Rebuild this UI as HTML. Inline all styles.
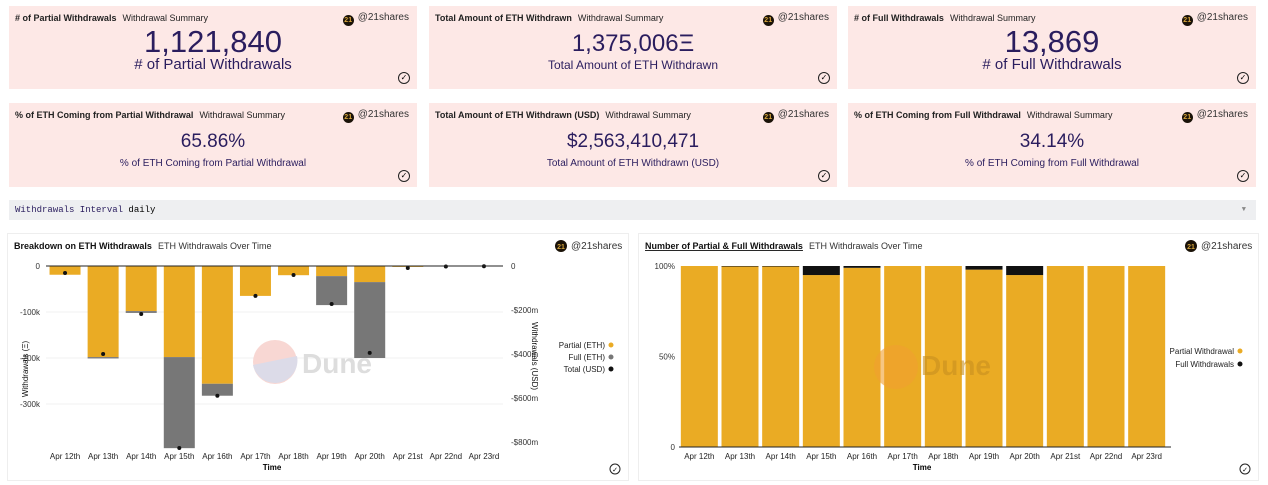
<!DOCTYPE html>
<html><head><meta charset="utf-8"><style>
body{margin:0;width:1268px;height:485px;background:#fff;font-family:"Liberation Sans",sans-serif;position:relative;overflow:hidden}
.card{position:absolute;width:408px;height:83px;background:#fde8e6;}
.ct{position:absolute;left:6px;top:7px;font-size:9px;color:#222}
.ct b{font-weight:bold;margin-right:6px}
.own{position:absolute;right:8px;top:6px;font-size:10px;color:#333}
.own i{display:inline-block;width:11px;height:11px;border-radius:50%;background:#1a1208;color:#d4a23a;font-size:7px;font-style:normal;text-align:center;line-height:11px;vertical-align:-2px;margin-right:4px;font-weight:bold}
.big{position:absolute;left:0;right:0;text-align:center;color:#2a1d5e}
.chk{position:absolute;right:7px;bottom:5px;width:10px;height:10px;border:1px solid #222;border-radius:50%;font-size:8px;line-height:10px;text-align:center}
.panel{position:absolute;top:233px;height:246px;border:1px solid #eee;background:#fff}
</style></head><body>
<div class="card" style="left:9px;top:6px"><div class="ct"><b># of Partial Withdrawals</b>Withdrawal Summary</div><div class="own"><i>21</i>@21shares</div><div class="big" style="top:18px;font-size:31px">1,121,840</div><div class="big" style="top:50px;font-size:15px"># of Partial Withdrawals</div><div class="chk">✓</div></div>
<div class="card" style="left:429px;top:6px"><div class="ct"><b>Total Amount of ETH Withdrawn</b>Withdrawal Summary</div><div class="own"><i>21</i>@21shares</div><div class="big" style="top:24px;font-size:24px">1,375,006Ξ</div><div class="big" style="top:52px;font-size:12px">Total Amount of ETH Withdrawn</div><div class="chk">✓</div></div>
<div class="card" style="left:848px;top:6px"><div class="ct"><b># of Full Withdrawals</b>Withdrawal Summary</div><div class="own"><i>21</i>@21shares</div><div class="big" style="top:18px;font-size:31px">13,869</div><div class="big" style="top:50px;font-size:15px"># of Full Withdrawals</div><div class="chk">✓</div></div>
<div class="card" style="left:9px;top:103px;height:84px"><div class="ct"><b>% of ETH Coming from Partial Withdrawal</b>Withdrawal Summary</div><div class="own"><i>21</i>@21shares</div><div class="big" style="top:28px;font-size:19px">65.86%</div><div class="big" style="top:55px;font-size:10px">% of ETH Coming from Partial Withdrawal</div><div class="chk">✓</div></div>
<div class="card" style="left:429px;top:103px;height:84px"><div class="ct"><b>Total Amount of ETH Withdrawn (USD)</b>Withdrawal Summary</div><div class="own"><i>21</i>@21shares</div><div class="big" style="top:28px;font-size:19px">$2,563,410,471</div><div class="big" style="top:55px;font-size:10px">Total Amount of ETH Withdrawn (USD)</div><div class="chk">✓</div></div>
<div class="card" style="left:848px;top:103px;height:84px"><div class="ct"><b>% of ETH Coming from Full Withdrawal</b>Withdrawal Summary</div><div class="own"><i>21</i>@21shares</div><div class="big" style="top:28px;font-size:19px">34.14%</div><div class="big" style="top:55px;font-size:10px">% of ETH Coming from Full Withdrawal</div><div class="chk">✓</div></div>
<div style="position:absolute;left:9px;top:200px;width:1247px;height:20px;background:#eeeff1;font-family:'Liberation Mono',monospace;font-size:9px;line-height:20px;padding-left:6px;box-sizing:border-box"><span style="color:#2a1d5e">Withdrawals Interval</span> daily<span style="position:absolute;right:10px;color:#888;font-size:7px">▼</span></div>
<div class="panel" style="left:7px;width:620px"><svg id="c1" width="620" height="246"></svg></div>
<div class="panel" style="left:638px;width:619px"><svg id="c2" width="619" height="246"></svg></div>
<script>
const cats=["Apr 12th","Apr 13th","Apr 14th","Apr 15th","Apr 16th","Apr 17th","Apr 18th","Apr 19th","Apr 20th","Apr 21st","Apr 22nd","Apr 23rd"];
const partialEth=[19,198,98,198,256,65,20,22,35,2,1,0.5];
const fullEth=[0,3,4,198,26,0,0,63,165,0,0,0];
const totalUsd=[32,400,218,827,590,136,41,173,395,9,2,1];
const leftTicks=[0,100,200,300];
const rightTicks=[0,200,400,600,800];
const fullPct=[0,0.3,0.3,5,1,0,0,2,5,0,0,0];
const pctTicks=[0,50,100];
const NS="http://www.w3.org/2000/svg";
function el(p,t,a,txt){const e=document.createElementNS(NS,t);for(const k in a)e.setAttribute(k,a[k]);if(txt!==undefined)e.textContent=txt;p.appendChild(e);return e;}
function header(s,title,sub,ul){
 const t=el(s,'text',{x:6,y:15,'font-size':9,fill:'#111'});
 
 el(t,'tspan',{'font-weight':'bold','text-decoration':ul?'underline':'none'},title);
 el(t,'tspan',{dx:6,fill:'#333'},sub);
 const W=+s.getAttribute('width');
 el(s,'circle',{cx:W-67,cy:12,r:6,fill:'#1a1208'});
 el(s,'text',{x:W-67,y:15,'font-size':7,fill:'#d4a23a','text-anchor':'middle','font-weight':'bold'},'21');
 el(s,'text',{x:W-57,y:15,'font-size':10,fill:'#333'},'@21shares');
 el(s,'circle',{cx:W-13,cy:235,r:5,fill:'none',stroke:'#222'});
 el(s,'text',{x:W-13,y:238,'font-size':7,'text-anchor':'middle'},'✓');
}
(function(){
 const s=document.getElementById('c1');header(s,'Breakdown on ETH Withdrawals','ETH Withdrawals Over Time');
 const y0=32,yL=v=>y0+v*0.46,yR=v=>y0+v*0.22;
 const x0=38,x1=495,step=(x1-x0)/cats.length,bw=31,xc=i=>x0+step*(i+0.5);
 leftTicks.forEach(v=>{el(s,'line',{x1:x0,x2:x1,y1:yL(v),y2:yL(v),stroke:'#f0f0f0'});el(s,'text',{x:x0-6,y:yL(v)+3,'font-size':8,'text-anchor':'end',fill:'#333'},v?'-'+v+'k':'0');});
 rightTicks.forEach(v=>el(s,'text',{x:x1+8,y:yR(v)+3,'font-size':8,fill:'#333'},v?'-$'+v+'m':'0'));
 el(s,'text',{transform:'translate(20,135) rotate(-90)','font-size':8,'text-anchor':'middle',fill:'#111'},'Withdrawals (Ξ)');
 el(s,'text',{transform:'translate(524,122) rotate(90)','font-size':8,'text-anchor':'middle',fill:'#111'},'Withdrawals (USD)');
 el(s,'circle',{cx:267,cy:128,r:22,fill:'#f8d7d3'});el(s,'path',{d:'M245,131 A22,22 0 0 0 289,122 Z',fill:'#dcdbe8'});
 el(s,'text',{x:294,y:139,'font-size':28,'font-weight':'bold',fill:'#ddd'},'Dune');
 cats.forEach((c,i)=>{
  const r=el(s,'rect',{x:xc(i)-bw/2,y:y0,width:bw,height:yL(partialEth[i])-y0,fill:'#eaab24'});
  
  const f=el(s,'rect',{x:xc(i)-bw/2,y:yL(partialEth[i]),width:bw,height:yL(fullEth[i])-y0,fill:'#777'});
  
  const d=el(s,'circle',{cx:xc(i),cy:yR(totalUsd[i]),r:2,fill:'#111'});
  
  el(s,'text',{x:xc(i),y:225,'font-size':8,'text-anchor':'middle',fill:'#222'},c);
 });
 el(s,'line',{x1:x0,x2:x1,y1:y0,y2:y0,stroke:'#222'});
 el(s,'text',{x:264,y:236,'font-size':8,'font-weight':'bold','text-anchor':'middle'},'Time');
 [['Partial (ETH)','#eaab24'],['Full (ETH)','#777'],['Total (USD)','#111']].forEach((l,i)=>{
  const t=el(s,'text',{x:597,y:114+i*12,'font-size':8,'text-anchor':'end',fill:'#222'},l[0]);
  
  el(s,'circle',{cx:603,cy:111+i*12,r:2.5,fill:l[1]});
 });
})();
(function(){
 const s=document.getElementById('c2');header(s,'Number of Partial & Full Withdrawals','ETH Withdrawals Over Time',true);
 const yb=213,yt=32,y=v=>yb-(yb-yt)*v/100;
 const x0=40,x1=528,step=(x1-x0)/cats.length,bw=37,xc=i=>x0+step*(i+0.5);
 pctTicks.forEach(v=>el(s,'text',{x:x0-4,y:y(v)+3,'font-size':8,'text-anchor':'end',fill:'#333'},v===0?'0':v+'%'));
 cats.forEach((c,i)=>{
  const r=el(s,'rect',{x:xc(i)-bw/2,y:y(100-fullPct[i]),width:bw,height:yb-y(100-fullPct[i]),fill:'#eaab24'});
  
  const f=el(s,'rect',{x:xc(i)-bw/2,y:y(100),width:bw,height:y(100-fullPct[i])-y(100),fill:'#111'});
  
  el(s,'text',{x:xc(i),y:225,'font-size':8,'text-anchor':'middle',fill:'#222'},c);
 });
 el(s,'circle',{cx:257,cy:133,r:22,fill:'#f0a030',opacity:0.6});
 el(s,'text',{x:282,y:141,'font-size':28,'font-weight':'bold',fill:'#c89020',opacity:0.6},'Dune');
 el(s,'line',{x1:x0,x2:x1+4,y1:yb,y2:yb,stroke:'#222'});
 el(s,'text',{x:283,y:236,'font-size':8,'font-weight':'bold','text-anchor':'middle'},'Time');
 [['Partial Withdrawal','#eaab24'],['Full Withdrawals','#111']].forEach((l,i)=>{
  const t=el(s,'text',{x:595,y:120+i*13,'font-size':8,'text-anchor':'end',fill:'#222'},l[0]);
  
  el(s,'circle',{cx:601,cy:117+i*13,r:2.5,fill:l[1]});
 });
})();
</script>
</body></html>
